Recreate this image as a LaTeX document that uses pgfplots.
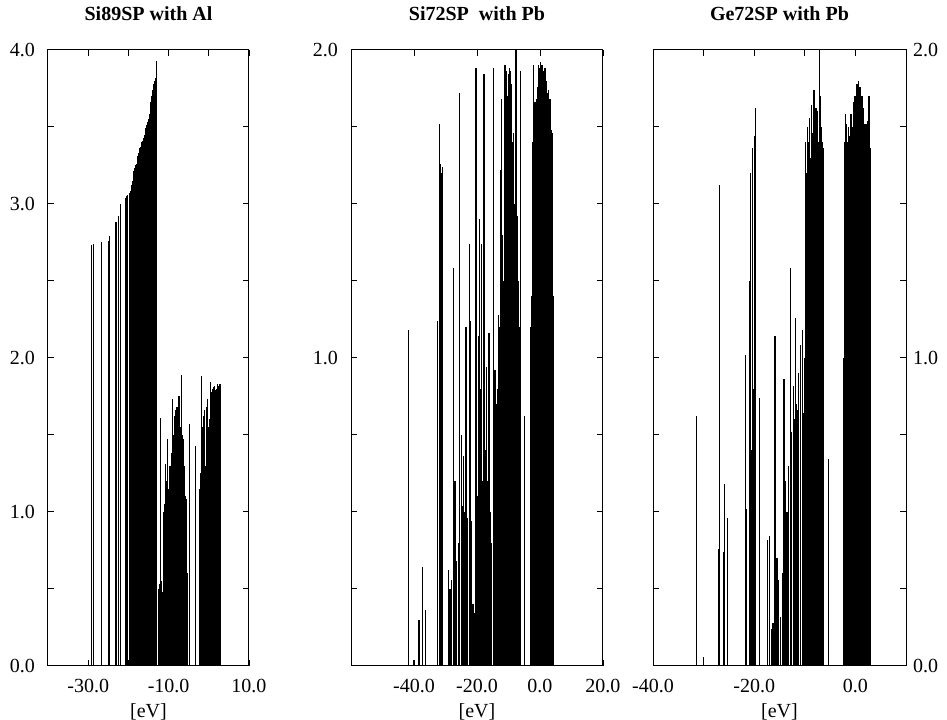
\documentclass[border=0pt]{standalone}
\usepackage{fontspec}
\setmainfont{Liberation Serif}
\usepackage{pgfplots}
\usepackage{pgfplotstable}
\pgfplotsset{compat=1.18}

\pgfplotstableread{
x y
-29.1 2.73
-28.6 2.74
-26.6 2.75
-25.0 2.76
-24.7 2.79
-23.3 2.86
-23.1 2.88
-22.5 2.92
-21.9 3.00
-20.7 3.04
-20.4 3.05
-20.2 3.06
-19.8 3.07
-19.5 3.08
-19.2 3.12
-19.0 3.15
-18.8 3.20
-18.6 3.21
-18.4 3.23
-18.2 3.25
-18.0 3.26
-17.8 3.28
-17.6 3.31
-17.4 3.33
-17.2 3.36
-17.0 3.37
-16.8 3.38
-16.6 3.40
-16.4 3.41
-16.2 3.43
-16.0 3.45
-15.8 3.47
-15.6 3.49
-15.4 3.51
-15.2 3.53
-15.0 3.55
-14.8 3.58
-14.6 3.63
-14.4 3.66
-14.2 3.70
-14.0 3.74
-13.8 3.78
-13.6 3.79
-13.4 3.80
-13.2 3.82
-13.1 3.93
-12.5 0.50
-12.3 0.53
-12.0 1.61
-11.8 0.55
-11.6 0.48
-11.4 0.30
-11.2 1.00
-11.0 1.02
-10.9 1.05
-10.7 1.31
-10.6 1.00
-10.5 1.10
-10.4 1.20
-10.2 1.47
-10.1 1.05
-10.0 1.10
-9.9 1.15
-9.8 1.25
-9.7 1.30
-9.6 1.20
-9.5 1.28
-9.4 1.30
-9.3 1.35
-9.2 1.38
-9.0 1.73
-8.9 1.40
-8.8 1.45
-8.7 1.50
-8.5 1.55
-8.4 1.62
-8.3 1.66
-8.1 1.68
-8.0 1.65
-7.9 1.60
-7.7 1.68
-7.6 1.62
-7.4 1.75
-7.3 1.60
-7.2 1.55
-7.0 1.55
-6.9 1.50
-6.7 1.89
-6.6 1.48
-6.5 1.50
-6.4 1.47
-6.2 1.46
-6.1 1.30
-6.0 1.20
-5.9 1.10
-5.8 1.00
-5.6 1.08
-5.4 0.60
-4.7 1.57
-3.4 1.43
-2.2 1.15
-2.0 1.25
-1.8 1.88
-1.6 1.45
-1.5 1.55
-1.3 1.62
-1.1 1.66
-1.0 1.60
-0.8 1.30
-0.6 1.68
-0.4 1.73
-0.2 1.55
-0.1 1.52
0.1 1.56
0.3 1.60
0.5 1.84
0.7 1.78
0.9 1.80
1.1 1.81
1.3 1.76
1.5 1.82
1.7 1.79
1.9 1.80
2.1 1.83
2.3 1.81
2.5 1.82
2.6 1.44
2.8 1.83
}\dataA

\pgfplotstableread{
x y
-41.8 1.09
-40.2 0.02
-38.4 0.15
-37.2 0.32
-36.3 0.18
-32.5 1.12
-32.0 1.76
-31.8 0.60
-31.5 1.63
-31.2 1.60
-30.9 1.62
-29.0 0.31
-28.6 0.25
-28.0 0.28
-27.5 1.29
-27.0 0.60
-26.4 0.34
-25.9 0.40
-25.6 1.86
-24.9 0.75
-24.6 0.52
-24.3 0.68
-24.0 0.50
-23.7 0.45
-23.5 1.10
-23.2 0.48
-22.9 0.40
-22.5 1.37
-22.2 1.12
-21.9 0.30
-21.7 0.47
-21.3 0.20
-20.9 0.17
-20.3 1.94
-20.0 0.55
-19.6 1.07
-19.3 0.70
-19.1 1.45
-18.8 0.90
-18.5 1.37
-18.2 0.60
-17.8 1.92
-17.7 1.68
-17.4 0.70
-17.1 0.97
-16.8 0.60
-16.5 0.40
-16.2 1.08
-15.9 0.50
-15.5 0.40
-14.8 1.94
-14.3 0.96
-13.7 0.85
-13.3 0.90
-13.1 1.14
-12.9 1.00
-12.7 1.10
-12.5 1.30
-12.4 1.61
-12.2 1.84
-12.0 1.40
-11.8 1.30
-11.6 1.25
-11.4 1.24
-11.2 1.50
-11.1 1.95
-10.9 1.70
-10.7 1.80
-10.6 1.93
-10.4 1.75
-10.2 1.85
-10.1 1.92
-9.9 1.80
-9.7 1.94
-9.5 1.85
-9.3 1.93
-9.1 1.80
-9.0 1.89
-8.8 1.70
-8.6 1.60
-8.5 1.73
-8.3 1.55
-8.1 1.50
-7.9 1.66
-7.7 1.40
-7.6 2.00
-7.4 1.30
-7.2 1.46
-7.0 1.25
-6.8 1.21
-6.6 1.10
-6.3 1.93
-4.8 0.81
-2.9 1.10
-2.7 1.20
-2.4 1.59
-2.2 1.70
-2.1 1.95
-1.9 1.75
-1.7 1.80
-1.6 1.83
-1.4 1.78
-1.2 1.80
-1.0 1.84
-0.8 1.88
-0.6 1.90
-0.5 1.95
-0.3 1.92
-0.2 1.94
0.0 1.90
0.2 1.96
0.4 1.93
0.6 1.95
0.9 1.95
1.1 1.93
1.4 1.94
1.6 1.92
1.8 1.94
2.0 1.88
2.1 1.90
2.4 1.86
2.6 1.87
2.9 1.80
3.2 1.84
3.4 1.70
3.7 1.74
3.9 1.73
4.1 1.20
4.4 0.28
}\dataB

\pgfplotstableread{
x y
-31.4 0.81
-30.1 0.03
-27.0 0.38
-26.9 1.56
-26.1 0.37
-25.9 0.59
-25.2 0.48
-21.8 1.01
-21.6 0.51
-21.0 1.25
-20.8 1.60
-20.6 0.70
-20.4 0.78
-20.3 1.68
-20.1 0.90
-20.0 1.72
-19.8 1.00
-19.7 1.81
-19.0 0.87
-17.3 0.41
-16.9 0.42
-16.5 0.12
-16.3 0.14
-15.9 1.07
-15.5 0.35
-15.2 0.28
-14.8 0.16
-14.4 0.30
-14.1 0.93
-13.8 0.60
-13.5 0.50
-13.2 0.65
-12.9 1.29
-12.7 0.70
-12.6 0.76
-12.3 0.91
-12.1 0.80
-11.8 1.13
-11.6 0.85
-11.5 0.83
-11.2 0.95
-10.8 1.04
-10.5 1.09
-10.2 0.82
-10.0 1.00
-9.8 1.70
-9.6 1.60
-9.4 1.75
-9.2 1.70
-9.1 1.78
-8.9 1.65
-8.7 1.82
-8.5 1.73
-8.3 1.70
-8.2 1.87
-8.0 1.75
-7.8 1.81
-7.6 1.72
-7.5 1.80
-7.3 1.70
-7.1 2.00
-6.9 1.85
-6.7 1.75
-6.5 1.70
-6.3 1.68
-5.3 0.67
-2.4 1.00
-2.2 1.70
-2.0 1.79
-1.9 1.65
-1.7 1.76
-1.5 1.70
-1.4 1.75
-1.2 1.72
-1.0 1.79
-0.9 1.70
-0.7 1.79
-0.5 1.75
-0.4 1.83
-0.2 1.78
-0.1 1.85
0.1 1.80
0.3 1.89
0.5 1.85
0.6 1.90
0.8 1.84
0.9 1.88
1.1 1.80
1.3 1.85
1.5 1.75
1.6 1.81
1.8 1.72
1.9 1.76
2.1 1.70
2.2 1.76
2.4 1.72
2.5 1.77
2.7 1.85
2.9 1.68
}\dataC

\pgfplotsset{
  spec/.style={
    scale only axis, height=308pt, ymin=0,
    anchor=south west,
    axis line style={line width=0.5pt},
    tick align=inside, tick pos=both,
    major tick length=3pt, minor tick length=3pt,
    every tick/.style={black, line width=0.4pt},
    /pgf/number format/fixed,
    /pgf/number format/fixed zerofill,
    /pgf/number format/precision=1,
    /pgf/number format/assume math mode=true,
    tick label style={font=\fontsize{10}{12}\selectfont},
    xticklabel style={yshift=-3pt},
    title style={font=\bfseries\fontsize{10}{12}\selectfont, yshift=5pt},
    label style={font=\fontsize{10}{12}\selectfont},
    xlabel={[eV]},
    xlabel style={at={(axis description cs:0.5,0)}, anchor=north,
      inner sep=0pt, yshift=-18.5pt},
  },
  sticks/.style={ycomb, black, line width=0.6pt, mark=none},
}

\begin{document}
\begin{tikzpicture}
\path (0,0) rectangle (473.5pt,356.5pt);

\begin{axis}[spec, at={(24pt,27pt)}, width=100.5pt,
  xmin=-40, xmax=10, ymax=4,
  xtick={-30,-10,10}, minor xtick={-20,0},
  ytick={0,1,2,3,4}, minor ytick={0.5,1.5,2.5,3.5},
  yticklabel style={xshift=-3pt},
  title={Si89SP with Al}]
\addplot[sticks] table {\dataA};
\end{axis}

\begin{axis}[spec, at={(175.5pt,27pt)}, width=126pt,
  xmin=-60, xmax=20, ymax=2,
  xtick={-40,-20,0,20},
  ytick={1,2}, minor ytick={0.25,0.5,0.75,1.25,1.5,1.75},
  yticklabel style={xshift=-3pt},
  title={Si72SP\ \ with Pb}]
\addplot[sticks] table {\dataB};
\end{axis}

\begin{axis}[spec, at={(326.5pt,27pt)}, width=126.5pt,
  xmin=-40, xmax=10, ymax=2,
  xtick={-40,-20,0}, minor xtick={-30,-10},
  ytick={0,1,2}, minor ytick={0.25,0.5,0.75,1.25,1.5,1.75},
  yticklabel pos=right,
  title={Ge72SP with Pb}]
\addplot[sticks] table {\dataC};
\end{axis}
\end{tikzpicture}
\end{document}
